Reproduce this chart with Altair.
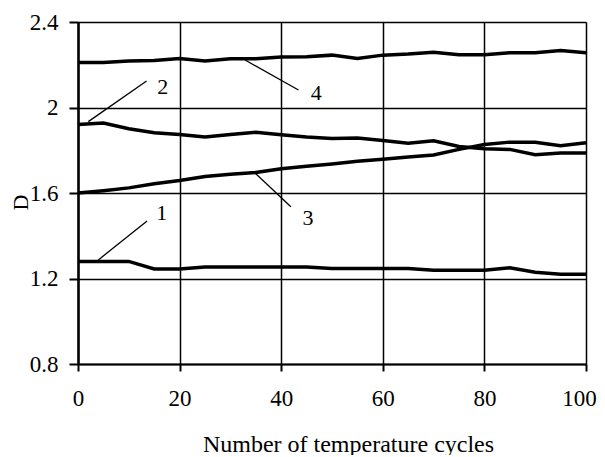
import altair as alt
import pandas as pd

cycles = [0, 5, 10, 15, 20, 25, 30, 35, 40, 45, 50, 55, 60, 65, 70, 75, 80, 85, 90, 95, 100]
curve1 = [1.28, 1.28, 1.28, 1.245, 1.245, 1.254, 1.254, 1.254, 1.254, 1.254, 1.247,
          1.247, 1.247, 1.247, 1.239, 1.239, 1.239, 1.25, 1.229, 1.22, 1.22]
curve2 = [1.92, 1.927, 1.901, 1.882, 1.874, 1.862, 1.874, 1.884, 1.873, 1.862, 1.855,
          1.857, 1.846, 1.833, 1.844, 1.818, 1.807, 1.804, 1.779, 1.787, 1.787]
curve3 = [1.60, 1.611, 1.624, 1.643, 1.658, 1.677, 1.688, 1.696, 1.713, 1.725, 1.736,
          1.749, 1.758, 1.768, 1.778, 1.804, 1.827, 1.838, 1.837, 1.821, 1.835]
curve4 = [2.211, 2.211, 2.218, 2.22, 2.229, 2.217, 2.228, 2.228, 2.236, 2.237, 2.245,
          2.229, 2.245, 2.25, 2.258, 2.247, 2.247, 2.256, 2.256, 2.267, 2.256]

label_names = ["1", "2", "3", "4"]
label_x = [16.5, 16.7, 45.3, 46.9]
label_y = [1.505, 2.097, 1.485, 2.070]
leader_x = [4.0, 2.03, 34.8, 32.9]
leader_y = [1.287, 1.934, 1.695, 2.222]
leader_x2 = [13.6, 13.5, 41.9, 43.4]
leader_y2 = [1.469, 2.124, 1.536, 2.082]

rows = []
for name, vals in zip(label_names, [curve1, curve2, curve3, curve4]):
    for c, v in zip(cycles, vals):
        rows.append({"cycles": c, "D": v, "curve": name})
df = pd.DataFrame(rows)

lab = pd.DataFrame({"name": label_names, "x": label_x, "y": label_y,
                    "lx": leader_x, "ly": leader_y, "lx2": leader_x2, "ly2": leader_y2})

FONT = "Liberation Serif"

xscale = alt.Scale(domain=[0, 100], nice=False)
yscale = alt.Scale(domain=[0.8, 2.4], nice=False, zero=False)

lines = alt.Chart(df).mark_line(color="black", strokeWidth=3.5).encode(
    x=alt.X("cycles:Q", scale=xscale,
            axis=alt.Axis(title="Number of temperature cycles", values=[0, 20, 40, 60, 80, 100],
                          grid=True, gridColor="black", gridWidth=1.5, gridOpacity=1,
                          domainColor="black", domainWidth=2, tickColor="black", tickWidth=2,
                          tickSize=7, labelPadding=16, labelFont=FONT, labelFontSize=23,
                          labelOffset={"condition": {"test": "datum.value == 100", "value": -7},
                                       "value": 0},
                          labelColor="black", titleFont=FONT, titleFontSize=24,
                          titleFontWeight="normal", titleColor="black", titlePadding=22,
                          titleX=270,
                          labelFlush=False)),
    y=alt.Y("D:Q", scale=yscale,
            axis=alt.Axis(title="D", values=[0.8, 1.2, 1.6, 2.0, 2.4], format="~g",
                          grid=True, gridColor="black", gridWidth=1.5, gridOpacity=1,
                          domainColor="black", domainWidth=2.5, tickColor="black", tickWidth=2,
                          tickSize=9, labelPadding=11, labelFont=FONT, labelFontSize=23,
                          labelColor="black", titleFont=FONT, titleFontSize=22,
                          titleFontWeight="normal", titleColor="black",
                          titleX=-58, titleY=180, titleAngle=270,
                          titleAlign="center", titleBaseline="middle",
                          labelFlush=False)),
    detail="curve:N",
)

leaders = alt.Chart(lab).mark_rule(color="black", strokeWidth=1.3).encode(
    x="lx:Q", y="ly:Q", x2="lx2:Q", y2="ly2:Q"
)

texts = alt.Chart(lab).mark_text(font=FONT, fontSize=22, color="black",
                                 align="center", baseline="middle").encode(
    x="x:Q", y="y:Q", text="name:N"
)

chart = alt.layer(lines, leaders, texts).properties(
    width=508, height=342,
    autosize=alt.AutoSizeParams(type="none"),
    padding={"left": 70, "top": 14, "right": 11, "bottom": 91},
).configure_view(stroke="black", strokeWidth=2).configure(background="white")

chart.save("out.html", embed_options={"renderer": "svg", "actions": False})
